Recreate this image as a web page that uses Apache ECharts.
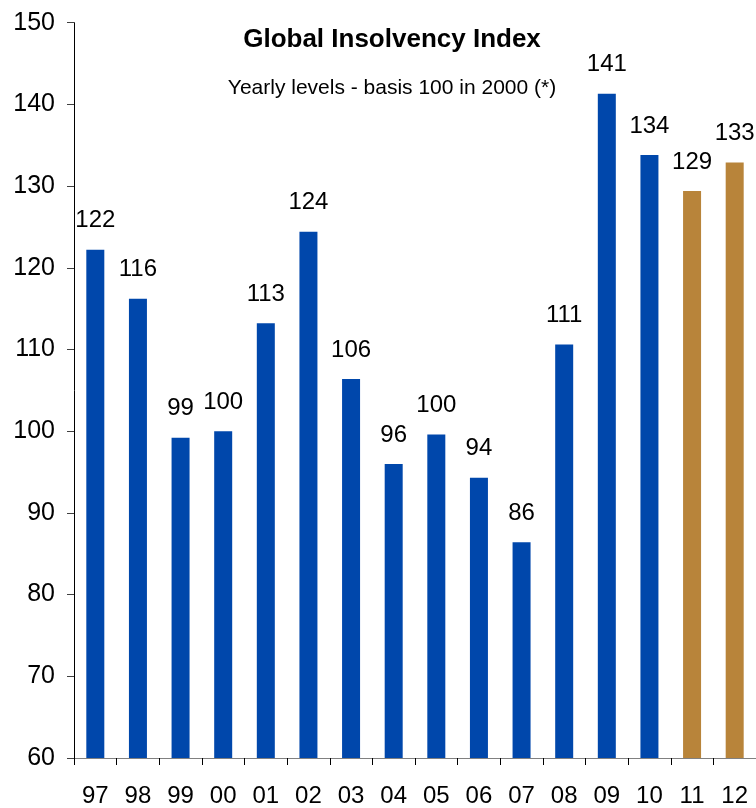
<!DOCTYPE html>
<html>
<head>
<meta charset="utf-8">
<script src="https://cdn.jsdelivr.net/npm/echarts@6/dist/echarts.min.js"></script>
<style>
  html, body { margin: 0; padding: 0; background: #ffffff; }
  #chart { width: 756px; height: 808px; }
</style>
</head>
<body>
<div id="chart"></div>
<script>
// Years shown on the category axis
var years = ['97', '98', '99', '00', '01', '02', '03', '04', '05', '06', '07', '08', '09', '10', '11', '12'];
// Observed index levels (1997-2010)
var observed = [122.2, 116.2, 99.2, 100.0, 113.2, 124.4, 106.4, 96.0, 99.6, 94.3, 86.4, 110.6, 141.3, 133.8];
// Forecast index levels (2011-2012)
var forecast = [129.4, 132.9];
// Value axis ticks
var yTicks = [60, 70, 80, 90, 100, 110, 120, 130, 140, 150];

var FONT = 'Liberation Sans, Arial, sans-serif';
var BLUE = '#0047AB';
var GOLD = '#B8843A';

var values = observed.concat(forecast);
var barData = values.map(function (v, i) {
  return {
    value: v,
    itemStyle: { color: i < observed.length ? BLUE : GOLD }
  };
});

var chart = echarts.init(document.getElementById('chart'), null, { renderer: 'canvas' });
chart.setOption({
  animation: false,
  backgroundColor: '#ffffff',
  title: [
    {
      text: 'Global Insolvency Index',
      left: 392, top: 27, textAlign: 'center', padding: 0,
      textStyle: { fontFamily: FONT, fontSize: 26, fontWeight: 'bold', color: '#000000' }
    },
    {
      text: 'Yearly levels - basis 100 in 2000 (*)',
      left: 392, top: 78, textAlign: 'center', padding: 0,
      textStyle: { fontFamily: FONT, fontSize: 21, fontWeight: 'normal', color: '#000000' }
    }
  ],
  grid: { left: 74, right: -4, top: 22.7, bottom: 46.7, containLabel: false },
  xAxis: {
    type: 'category',
    data: years,
    boundaryGap: true,
    axisLine: { show: true, lineStyle: { color: '#808080', width: 1 } },
    axisTick: { show: true, length: 7, lineStyle: { color: '#000000' } },
    axisLabel: { fontFamily: FONT, fontSize: 24, color: '#000000', margin: 26, interval: 0 },
    splitLine: { show: false }
  },
  yAxis: {
    type: 'value',
    min: yTicks[0],
    max: yTicks[yTicks.length - 1],
    interval: 10,
    axisLine: { show: true, lineStyle: { color: '#000000', width: 1 } },
    axisTick: { show: true, length: 7, lineStyle: { color: '#404040' } },
    axisLabel: { fontFamily: FONT, fontSize: 25, color: '#000000', margin: 19 },
    splitLine: { show: false }
  },
  series: [{
    type: 'bar',
    data: barData,
    barWidth: 18,
    label: {
      show: true,
      position: 'top',
      distance: 17,
      fontFamily: FONT,
      fontSize: 24,
      color: '#000000',
      formatter: function (p) { return Math.round(p.value); }
    }
  }]
});
</script>
</body>
</html>
